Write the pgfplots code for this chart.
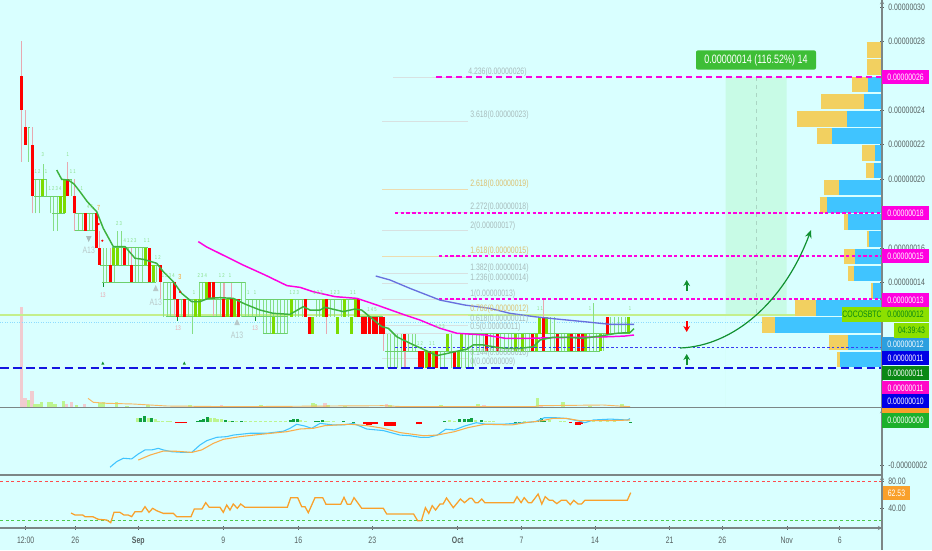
\documentclass[border=0pt]{standalone}
\usepackage{fontspec}
\setmainfont[FakeStretch=0.74]{Liberation Sans}
\usepackage{pgfplots}
\usepackage{pgfplotstable}
\pgfplotsset{compat=1.18}
\usetikzlibrary{arrows.meta}
\definecolor{bgc}{HTML}{D9FFFF}
\definecolor{wickg}{HTML}{86DE86}
\definecolor{wickr}{HTML}{E8A8B0}
\definecolor{bodyg}{HTML}{7BDB00}
\definecolor{dojig}{HTML}{6CD06C}
\definecolor{emag}{HTML}{3DB23D}
\definecolor{mag}{HTML}{FF00E0}
\definecolor{navy2}{HTML}{1414E0}
\definecolor{lvlb}{HTML}{3A3AF0}
\definecolor{lbl}{HTML}{566060}
\definecolor{fibg}{HTML}{A8BCBC}
\definecolor{fibo}{HTML}{DCC070}
\definecolor{vprofb}{HTML}{40C4FF}
\definecolor{vprofo}{HTML}{F2D060}
\definecolor{lime2}{HTML}{8CE000}
\definecolor{mint}{HTML}{C8FBE6}
\definecolor{ornge}{HTML}{F9A02B}
\definecolor{histd}{HTML}{10A040}
\definecolor{histl}{HTML}{BDF590}
\definecolor{sepc}{HTML}{7C8686}
\definecolor{slate}{HTML}{6870DE}
\definecolor{posg}{HTML}{3EBE36}
\definecolor{arrg}{HTML}{109030}
\definecolor{b12}{HTML}{2C9FDF}
\definecolor{b11}{HTML}{0000E6}
\definecolor{g11}{HTML}{0A8814}
\definecolor{m11}{HTML}{FF08C8}
\definecolor{g00}{HTML}{1CB02C}

% candles: i = candle number, lo / hi in units of 0.00000001
\pgfplotstableread{
i lo hi
2 21 23
4 18 20
5 18 20
6 19 20.9
7 19 20
8 18 19
9 17 19
10 17 19
11 18 19
12 18 20
14 19 20
16 17 18
17 17 18
19 17 18
20 17 18
23 14 16
24 14 16
26 14 16
27 15 17
28 15 17
30 15 16
32 14 16
33 14 16
34 14 16
35 15 16
37 14 15
38 14 15
40 12 14
41 12 14
42 12 14
45 12 13
47 12 13
48 11 13
49 12 13
50 12 14
51 13 14
52 13 14
55 12 13
56 12 14
58 12 13
60 12 13
62 12 14
63 12 14
64 12 13
65 12 13
66 12 13
67 12 13
68 11 13
69 11 13
70 11 13
71 11 13
72 11 13
73 11 13
74 11 13
75 11 13
76 12 13
77 12 13
78 12 13
79 12 13
82 11 12
83 12 13
84 12 13
85 12 13
87 12 13
88 12 13
89 11 12
90 12 13
91 12 13
92 12 13
93 11 12
94 12 13
103 9 11
104 9 11
105 9 11
106 9 11
107 9 11
109 10 11
110 10 11
111 10 11
118 9 10
119 9 10
120 10 11
121 9 11
123 9 10
124 9 11
125 9 11
126 9 11
127 9 11
128 10 11
129 10 11
130 10 11
132 10 11
133 10 11
135 10 11
136 10 11
137 10 11
138 10 11
139 10 11
140 10 11
141 10 11
142 10 11
143 10 11
145 10 11
146 11 12
148 11 12
149 10 12
150 10 12
152 10 11
153 10 11
154 10 11
156 10 11
159 10 11
160 10 11
161 10 12.8
162 10 11
163 10 11
164 10 11
166 11 12
167 11 12
168 11 12
169 11 12
170 11 12
171 11 12
}\wicksG
\pgfplotstableread{
i lo hi
0 21 28
1 22 24
3 18 23
13 19 21
15 17 20
18 17 18
21 16 18
22 15 17
25 14 16
29 15 16
31 14 16
36 14 16
39 13 15
43 12 14
44 12 13
46 12 13
53 13 14
54 12 14
57 12 14
59 12 14
61 12 13
80 12 13
81 11 12
86 11 13
95 12 13
102 10 12
108 9 11
147 10 13
}\wicksR
\pgfplotstableread{
i lo hi
0 24 26
1 22 23
3 19 22
13 19 20
15 18 19
18 17 18
21 16 18
22 15 16
25 14 15
29 15 16
31 14 15
36 14 16
39 14 15
43 13 14
44 12 13
46 12 13
53 13 14
54 13 14
57 12 13
59 12 13
61 12 13
80 12 13
81 11 12
86 12 13
95 12 13
96 11 12
97 11 12
98 11 12
99 11 12
100 11 12
101 11 12
102 11 12
108 10 11
112 9 10
113 9 10
115 9 10
117 9 10
122 9 10
131 10 11
134 10 11
144 10 11
147 10 12
151 10 11
155 10 11
157 10 11
158 10 11
165 11 12
}\bodyR
\pgfplotstableread{
i lo hi
6 19 20
11 18 19
12 18 20
26 15 16
27 15 16
35 15 16
37 14 15
49 12 13
50 12 13
52 13 14
58 12 13
60 12 13
71 11 12
76 12 13
82 11 12
85 12 13
89 11 12
91 12 13
93 11 12
94 12 13
114 9 10
116 9 10
120 10 11
123 9 10
124 10 11
139 10 11
141 10 11
145 10 11
146 11 12
148 11 12
154 10 11
159 10 11
163 10 11
171 11 12
}\bodyG
\pgfplotstableread{
a b y
28 30 23
34 47 20
34 48 19
48 65 19
52 65 18
62 72 20
75 95 18
75 96 17
112 148 16
100 160 15
102 156 14
163 173 14
163 242 13
166 237 12
199 245 14
242 288 12
263 287 11
246 310 13
290 360 13
360 383 12
385 460 10
460 600 11
460 600 10
600 630 11
}\dojis
\pgfplotstableread{
a b y
393 468 25.93
382 468 23.37
382 468 17.03
382 468 14.53
382 468 13.95
382 468 13.02
382 468 11.5
382 468 11.05
382 468 9.6
395 468 18.08
}\fibG
\pgfplotstableread{
a b y
382 468 19.4
382 468 15.52
382 468 12.1
}\fibO
% volume profile: price row, left of the up part, left of the down part
\pgfplotstableread{
y o b
27.5 866.7 882
26.5 866.7 882
25.5 851.7 867.7
24.5 821 863.7
23.5 796.7 846.7
22.5 816.7 831.7
21.5 862 875
20.5 865.7 874.3
19.5 824 839
18.5 819.7 826.7
17.5 844.3 847.7
16.5 866.7 868.7
15.5 844 855
14.5 847.7 853.7
13.5 871 873
12.5 794.7 815.7
11.5 761.7 775
10.5 829 847.7
9.5 837.3 840
}\vprof
% MACD histogram: x, lo, hi
\pgfplotstableread{
x lo hi
140.5 -0.1 0.1
144 -0.1 0.18
151.7 -0.1 0.1
197 -0.1 -0.04
200 -0.1 0
203.5 -0.1 0.03
207 -0.1 0.15
225 -0.1 0
232.7 -0.1 -0.05
241.7 -0.1 -0.03
290 -0.1 0
293.5 -0.1 0.03
297 -0.1 0.03
315 -0.1 -0.05
318.5 -0.1 -0.03
322 -0.1 0
343 -0.1 -0.06
353 -0.1 -0.07
444 -0.1 -0.03
459 -0.1 0.03
464.5 -0.1 0.04
468 -0.1 0.05
471 -0.1 0.07
481 -0.1 0
515 -0.1 -0.07
519 -0.1 -0.07
537 -0.1 -0.03
541 -0.1 0.07
544 -0.1 -0.03
630 -0.12 -0.1
}\histD
\pgfplotstableread{
x lo hi
137 -0.1 0.07
148 -0.1 0.1
155 -0.1 0.03
158.5 -0.1 -0.03
162 -0.1 -0.06
167 -0.1 -0.05
170 -0.1 -0.05
210.5 -0.1 0.07
214 -0.1 0.07
217.5 -0.1 0.05
221 -0.1 0.05
229 -0.1 -0.03
236.5 -0.1 -0.05
245 -0.1 -0.05
250 -0.1 -0.05
255 -0.1 -0.05
260 -0.1 -0.05
265 -0.1 -0.05
270 -0.1 -0.05
275 -0.1 -0.05
280 -0.1 -0.05
285 -0.1 -0.05
300 -0.1 0
305 -0.1 -0.05
325 -0.1 -0.05
328.5 -0.1 -0.05
333 -0.1 -0.05
449 -0.1 0
454 -0.1 -0.045
475 -0.1 0
485 -0.1 -0.05
489 -0.1 -0.05
493 -0.1 -0.05
524 -0.1 -0.05
549 -0.1 0
560 -0.1 -0.05
564 -0.1 -0.05
593 -0.1 -0.05
600 -0.1 -0.05
607 -0.1 -0.05
614 -0.1 -0.05
}\histL
\pgfplotstableread{
x lo hi
176 -0.14 -0.1
179 -0.14 -0.1
182 -0.14 -0.1
185 -0.13 -0.1
364 -0.2 -0.1
367 -0.22 -0.1
370 -0.22 -0.1
373 -0.2 -0.1
376 -0.16 -0.1
385 -0.25 -0.1
388 -0.25 -0.1
391 -0.25 -0.1
394 -0.25 -0.1
417 -0.19 -0.1
420.5 -0.19 -0.1
570 -0.13 -0.1
576 -0.22 -0.1
579 -0.22 -0.1
581.5 -0.2 -0.1
}\histR

\newcommand{\candles}[3]{\addplot[draw=none,mark=none,forget plot,error bars/.cd,y dir=plus,y explicit,error mark=none,error bar style={draw=#2,solid,line width=#3}] table[x expr=21.7+3.549*\thisrow{i},y=lo,y error plus expr=\thisrow{hi}-\thisrow{lo}] {#1};}
\newcommand{\vsegs}[3]{\addplot[draw=none,mark=none,forget plot,error bars/.cd,y dir=plus,y explicit,error mark=none,error bar style={draw=#2,solid,line width=#3}] table[x=x,y=lo,y error plus expr=\thisrow{hi}-\thisrow{lo}] {#1};}
\newcommand{\hsegs}[3]{\addplot[draw=none,mark=none,forget plot,error bars/.cd,x dir=plus,x explicit,error mark=none,error bar style={draw=#2,solid,line width=#3}] table[x=a,y=y,x error plus expr=\thisrow{b}-\thisrow{a}] {#1};}
\newcommand{\td}[3]{\node[text=wickg,font=\fontsize{4.2}{5}\selectfont,inner sep=0pt] at (axis cs:#1,#2) {#3};}

\pgfplotsset{
 panel/.style={scale only axis,width=661.5pt,xmin=0,xmax=882,anchor=south west,
   axis line style={-,draw=sepc},
   tick style={draw=lbl,line width=.4pt},
   major tick length=2.5pt,
   tick label style={font=\fontsize{7}{8}\selectfont,text=lbl},
   /pgf/number format/assume math mode=true},
}

\begin{document}
\begin{tikzpicture}[x=1pt,y=1pt]
\fill[bgc] (0,0) rectangle (699,412.5);
\useasboundingbox (0,0) rectangle (699,412.5);

% volume
\begin{axis}[panel,at={(0pt,107.25pt)},height=305.25pt,ymin=0,ymax=407,hide axis]
\addplot[ycomb,wickr!60,line width=2.4pt,forget plot] coordinates {(21.7,100)(25,9)(32,16)(66.7,2.7)(71.7,4.7)(84.3,2.7)(221.7,2.3)(325,3.7)(386.7,3)(484,2)(541,2)};
\addplot[ycomb,histl,line width=2.4pt,forget plot] coordinates {(28.3,7)(35,3)(38.3,3)(41.7,5.3)(48.3,4.7)(51.7,4.7)(55,3)(63.3,6.3)(76.7,2)(100,4)(103.3,4.7)(116.7,5)(127,1)(148,1.5)(190,1.5)(205,1)(261,1.5)(278,1)(315,3)(328,2)(313,4)(345,1)(390,1.5)(410,1)(441,1.5)(478,2.7)(520,1)(537.4,8.7)(563,4.7)(590,1)(622,3)};
\addplot[ornge!75,line width=.7pt,forget plot] coordinates {(88,8.7)(93.3,4.7)(106.7,3.7)(133,3)(150,2)(167,1)(233,.3)(333,1)(383,1.3)(400,.5)(535,.5)(539,1.3)(603,2)(630,.3)};
\end{axis}

% price panel
\begin{axis}[panel,at={(0pt,107.25pt)},height=305.25pt,ymin=6.744,ymax=30.407,
  axis x line=none,axis y line=right,
  ytick={30,28,24,22,20,16,14},
  yticklabels={0.00000030,0.00000028,0.00000024,0.00000022,0.00000020,0.00000016,0.00000014}]
\addplot[fill=mint,draw=none,forget plot] coordinates {(725.7,25.93)(786.7,25.93)(786.7,12.1)(725.7,12.1)} \closedcycle;
\addplot[draw=mint!85!black,dashed,line width=.6pt,forget plot] coordinates {(756,25.93)(756,12.1)};
\addplot[color=bodyg!45!white,line width=1.1pt,forget plot] coordinates {(0,12.1)(882,12.1)};
\addplot[color=vprofb!60!white,densely dotted,line width=.8pt,forget plot] coordinates {(0,11.63)(882,11.63)};
\hsegs{\fibG}{fibg!45}{.5pt}
\hsegs{\fibO}{fibo!55}{.5pt}
\candles{\wicksG}{wickg}{.6pt}
\candles{\wicksR}{wickr}{.8pt}
\hsegs{\dojis}{dojig}{.45pt}
\candles{\bodyG}{bodyg}{2.25pt}
\candles{\bodyR}{red}{2.25pt}
% volume profile
\addplot[draw=none,mark=none,forget plot,error bars/.cd,x dir=plus,x explicit,error mark=none,error bar style={draw=vprofo,solid,line width=11.7pt}] table[x=o,y=y,x error plus expr=\thisrow{b}-\thisrow{o}] {\vprof};
\addplot[draw=none,mark=none,forget plot,error bars/.cd,x dir=plus,x explicit,error mark=none,error bar style={draw=vprofb,solid,line width=11.7pt}] table[x=b,y=y,x error plus expr=882-\thisrow{b}] {\vprof};
% levels
\addplot[color=mag,line width=1.1pt,dash pattern=on 4.5pt off 3pt,forget plot] coordinates {(436,25.93)(882,25.93)};
\addplot[color=mag,line width=.95pt,dash pattern=on 2.5pt off 1.8pt,forget plot] coordinates {(395,18.03)(882,18.03)};
\addplot[color=mag,line width=.95pt,dash pattern=on 2.5pt off 1.8pt,forget plot] coordinates {(439,15.52)(882,15.52)};
\addplot[color=mag,line width=.95pt,dash pattern=on 2.5pt off 1.8pt,forget plot] coordinates {(439,13.02)(882,13.02)};
\addplot[color=lvlb,line width=.95pt,dash pattern=on 2pt off 1.6pt,forget plot] coordinates {(395,10.22)(882,10.22)};
\addplot[color=navy2,line width=1.2pt,dash pattern=on 6.5pt off 3.2pt,forget plot] coordinates {(0,9)(882,9)};
% moving averages
\addplot[color=slate,line width=1pt,forget plot] coordinates {(375.7,14.36)(390,14.13)(410,13.64)(440,12.96)(465,12.67)(490,12.48)(510,12.19)(535,11.99)(560,11.84)(585,11.7)(610,11.55)(634,11.55)};
\addplot[color=mag,line width=1.1pt,forget plot] coordinates {(198.3,16.36)(206,16.07)(225,15.52)(243,15)(265,14.42)(287,13.8)(300,13.7)(313,13.45)(335,13.16)(357,13.06)(377,12.67)(405,12.09)(420,11.8)(440,11.32)(457,11.03)(485,10.93)(505,10.74)(530,10.74)(550,10.77)(580,10.8)(610,10.83)(625,10.87)(634,10.93)};
\addplot[color=emag,line width=1.1pt,forget plot] coordinates {(56.7,20.52)(61.7,19.98)(68.3,19.94)(74,19.71)(80,19.26)(87.3,18.68)(96.7,18.1)(103.3,17.13)(113.3,16.07)(125,16.07)(135,15.39)(143.3,15.33)(156.7,15.1)(163.3,14.61)(173.3,14.03)(181.7,13.35)(191.7,12.87)(200,12.87)(208.3,13.06)(220,13.1)(233.3,13.06)(245,12.73)(260,12.38)(273.3,12.19)(290,12.13)(303.3,12.58)(310,12.38)(320,12.38)(325,12.54)(336.7,12.38)(343.3,12.29)(355,12.44)(361.7,12.38)(371.7,11.9)(381.7,11.42)(388.3,11.32)(396.7,10.83)(410,10.45)(423.3,10.1)(436.7,9.73)(445,9.83)(455,9.96)(466.7,10.1)(473.3,10.35)(483.3,10.35)(496.7,10.21)(506.7,10.15)(520,10.15)(533.3,10.25)(540,10.64)(553.3,10.8)(566.7,10.8)(583.3,10.74)(600,10.87)(616.7,11.03)(630,11.07)(634,11.3)};
\end{axis}

% MACD panel
\begin{axis}[panel,at={(0pt,57pt)},height=48.75pt,ymin=-2.4,ymax=0.489,
  axis x line=none,axis y line=right,
  ytick={-2},yticklabels={-0.00000002}]
\vsegs{\histL}{histl}{2.25pt}
\vsegs{\histD}{histd}{2.25pt}
\vsegs{\histR}{red}{2.25pt}
\addplot[color=vprofb,line width=.8pt,forget plot] coordinates {(110,-2.1)(116.7,-1.85)(123.3,-1.7)(131.7,-1.73)(138.3,-1.51)(145,-1.33)(151.7,-1.33)(158.3,-1.26)(163.3,-1.33)(171.7,-1.41)(183.3,-1.44)(191.7,-1.44)(200,-1.11)(206.7,-0.92)(216.7,-0.77)(226.7,-0.74)(233.3,-0.67)(250,-0.59)(266.7,-0.59)(283.3,-0.5)(290,-0.37)(296.7,-0.19)(305,-0.27)(311.7,-0.37)(320,-0.15)(333.3,-0.22)(343.3,-0.22)(353.3,-0.15)(366.7,-0.4)(383.3,-0.47)(400,-0.67)(410,-0.70)(420.4,-0.77)(428.8,-0.77)(437.3,-0.67)(445.8,-0.41)(454.3,-0.44)(464.5,-0.27)(476.3,-0.12)(484.8,-0.18)(501.8,-0.19)(515.4,-0.15)(535.7,-0.07)(544.2,0.1)(556,0.1)(566.3,0.07)(578.1,-0.04)(584.9,-0.12)(593.4,0)(610.4,0.04)(627.3,0)(630,0.06)};
\addplot[color=ornge!85!white,line width=.8pt,forget plot] coordinates {(138.3,-1.78)(150,-1.56)(163.3,-1.38)(176.7,-1.39)(191.7,-1.44)(201.7,-1.33)(213.3,-1.04)(223.3,-0.86)(240,-0.74)(260,-0.64)(286.7,-0.52)(300,-0.4)(313.3,-0.37)(325,-0.25)(350,-0.19)(366.7,-0.25)(383.3,-0.37)(400,-0.56)(413.6,-0.64)(423.8,-0.7)(437.3,-0.67)(454.3,-0.52)(467.9,-0.34)(484.8,-0.19)(512,-0.22)(525.5,-0.12)(542.5,-0.03)(552.7,0.07)(566.3,0.07)(579.8,-0.03)(593.4,-0.03)(610.4,-0.03)(630,0)};
\end{axis}

% RSI panel
\begin{axis}[panel,at={(0pt,16.5pt)},height=39pt,ymin=11.2,ymax=87.3,
  axis x line=bottom,axis y line=right,
  xticklabel shift=2pt,
  ytick={40,80},yticklabels={40.00,80.00},
  xtick={25.7,75.3,138.3,223.3,298.3,372.3,457.7,521.5,595,669.7,722.3,786.8,839.7},
  xticklabels={12:00,26,\textbf{Sep},9,16,23,\textbf{Oct},7,14,21,26,Nov,6}]
\addplot[color=red!70!white,line width=.6pt,dash pattern=on 2.2pt off 2pt,forget plot] coordinates {(0,80)(882,80)};
\addplot[color=green!70!black!70!white,line width=.6pt,dash pattern=on 2.2pt off 2pt,forget plot] coordinates {(0,23)(882,23)};
\addplot[color=ornge,line width=.95pt,forget plot] coordinates {(71,33.1)(75,30.2)(82.7,30.2)(85,27.8)(92.7,27.8)(98.3,23.9)(106.7,22.9)(110.7,19)(114,34.1)(120,34.1)(124,30.2)(128.3,30.2)(131.7,27.8)(135,35.1)(141.7,35.1)(145,42.4)(149,34.1)(152.7,40)(156.7,36.5)(163.3,32.6)(173.3,32.6)(176.7,27.8)(191,27.8)(194.3,39)(202,39)(205.7,48.3)(209.3,41.4)(220,41.4)(223.3,34.1)(226.7,44.8)(230,37.5)(233.3,46.3)(237.3,40)(240.7,46.3)(245,41.4)(287.3,41.4)(290.7,55.6)(297.7,55.6)(301.7,42.4)(305,42.4)(308.3,33.6)(315,55.6)(322.7,55.6)(326,45.8)(340.7,45.8)(344,56)(347.3,45.8)(350.7,45.8)(354,55.6)(361.7,40)(383.3,40)(386.7,31.7)(413.6,31.7)(417.6,21.9)(421.4,21.9)(425.4,40.9)(428.8,32.6)(432.2,43.9)(435.6,37.5)(440,46.3)(443.1,46.3)(446.5,55.1)(453.3,40.9)(460.4,53.6)(464.5,48.3)(469.6,54.6)(471.9,54.6)(475.3,48.3)(478,48.3)(481.8,53.6)(484.8,48.3)(513.7,48.3)(517,57)(521.1,48.3)(524.2,55.6)(528.3,48.3)(531.6,48.3)(538.1,60.9)(541.8,46.3)(545.2,57)(549.3,51.7)(552.7,51.7)(556.8,46.8)(561.2,51.7)(566.3,51.7)(570.3,45.3)(573.7,51.7)(578.1,46.3)(581.5,46.3)(584.9,51.7)(627.3,51.7)(630.7,62.9)};
\end{axis}

% annotations, in picture pixels
\begin{axis}[at={(0pt,0pt)},anchor=south west,scale only axis,width=699pt,height=412.5pt,xmin=0,xmax=932,ymin=0,ymax=550,y dir=reverse,hide axis,clip=false]
\draw[sepc,line width=1.1pt] (axis cs:0,407.6)--(axis cs:882,407.6);
\draw[sepc,line width=1.1pt] (axis cs:0,475)--(axis cs:882,475);
\draw[sepc,line width=1pt] (axis cs:0,528)--(axis cs:882,528);
\draw[sepc,line width=.9pt] (axis cs:882,0)--(axis cs:882,550);
% fib labels
\begin{scope}[every node/.style={anchor=west,inner sep=0pt,font=\fontsize{7}{8}\selectfont}]
\node[text=fibg] at (axis cs:468,72) {4.236(0.00000026)};
\node[text=fibg] at (axis cs:470,115) {3.618(0.00000023)};
\node[text=fibo] at (axis cs:470,184) {2.618(0.00000019)};
\node[text=fibg] at (axis cs:470,207) {2.272(0.00000018)};
\node[text=fibg] at (axis cs:470,226) {2(0.00000017)};
\node[text=fibo] at (axis cs:470,251) {1.618(0.00000015)};
\node[text=fibg] at (axis cs:470,268) {1.382(0.00000014)};
\node[text=fibg] at (axis cs:470,278) {1.236(0.00000014)};
\node[text=fibg] at (axis cs:470,294) {1(0.00000013)};
\node[text=fibo] at (axis cs:470,309) {0.786(0.00000012)};
\node[text=fibg] at (axis cs:470,319) {0.618(0.00000011)};
\node[text=fibg] at (axis cs:470,327) {0.5(0.00000011)};
\node[text=fibg] at (axis cs:470,353) {0.144(0.00000010)};
\node[text=fibg] at (axis cs:470,362) {0(0.00000009)};
\end{scope}
% A13 marks
\node[text=fibg!80,font=\fontsize{7}{8}\selectfont,inner sep=0pt] at (axis cs:88.7,250) {A13};
\node[text=fibg!80,font=\fontsize{7}{8}\selectfont,inner sep=0pt] at (axis cs:155.7,302.7) {A13};
\node[text=fibg!80,font=\fontsize{7}{8}\selectfont,inner sep=0pt] at (axis cs:237,335.7) {A13};
\fill[fibg] (axis cs:86,236)--(axis cs:91.5,236)--(axis cs:88.7,242)--cycle;
\fill[fibg!80] (axis cs:153,291)--(axis cs:158.5,291)--(axis cs:155.7,285)--cycle;
\fill[fibg!80] (axis cs:234.3,325)--(axis cs:239.8,325)--(axis cs:237,319)--cycle;
\node[text=wickr,font=\fontsize{5}{6}\selectfont,inner sep=0pt] at (axis cs:103,295) {13};
\node[text=wickr,font=\fontsize{5}{6}\selectfont,inner sep=0pt] at (axis cs:178,328) {13};
\node[text=wickr,font=\fontsize{5}{6}\selectfont,inner sep=0pt] at (axis cs:255,328) {13};
\td{37.5}{172}{1 2}\td{46}{172}{1}\td{55}{189}{1 2 3 4}\td{42.7}{155}{3}\td{67.7}{155}{1}\td{72.7}{172}{1 1}\td{81.7}{189}{1}\td{90}{206.5}{4 5}\td{119}{224}{2 3}\td{130}{240.5}{4 1 2 3}\td{146.7}{240.5}{1 1}\td{157.7}{257.7}{1 2}\td{168.3}{275.3}{1 2 3 4}\td{202.3}{275.3}{2 3 4}\td{221.7}{275.3}{1 2}\td{230}{275.3}{1}\td{248.3}{292.3}{1}\td{255}{292.3}{1}\td{294.3}{292.3}{1 2 3}\td{194}{292.3}{1}\td{318}{292.3}{1 2 3}\td{335}{292.3}{1 2 3}\td{353}{292.3}{1 1}\td{372}{310}{1 4 5}\td{440}{327}{1 2 3}\td{420}{344}{1 2}\td{432}{344}{1 1}\td{540}{309}{1 1}\td{590}{309}{1}\td{630}{309}{1}
\node[text=ornge,font=\fontsize{5.5}{6}\selectfont,inner sep=0pt] at (axis cs:98.7,208) {7};
\node[text=ornge,font=\fontsize{5.5}{6}\selectfont,inner sep=0pt] at (axis cs:180,277) {3};
\fill[arrg] (axis cs:102.7,283) rectangle (axis cs:103.9,287);
\fill[arrg] (axis cs:176.7,317) rectangle (axis cs:177.9,321);
\fill[arrg] (axis cs:254.7,317) rectangle (axis cs:255.9,321);
\fill[arrg] (axis cs:101.3,364.5)--(axis cs:104.3,364.5)--(axis cs:102.8,361.5)--cycle;
\fill[arrg] (axis cs:182.8,364.5)--(axis cs:185.8,364.5)--(axis cs:184.3,361.5)--cycle;
\fill[red] (axis cs:98.7,224) circle (.9pt);
\fill[red] (axis cs:102.3,240.7) circle (.9pt);
\fill[red] (axis cs:180,292) circle (.9pt);
% position label
\node[fill=posg,rounded corners=1.5pt,text=white,font=\fontsize{9.1}{10}\selectfont,minimum width=90pt,minimum height=14.5pt,inner sep=0pt] at (axis cs:756,60) {0.00000014 (116.52\%) 14};
% curved arrow and arrows
\draw[arrg,line width=.9pt,-{Stealth[length=6pt,width=5pt,open]}] (axis cs:680,348) .. controls (axis cs:735,346) and (axis cs:785,300) .. (axis cs:811,230);
\draw[arrg,line width=1.3pt,-{Stealth[length=4.5pt,width=5pt]}] (axis cs:686.7,291)--(axis cs:686.7,280);
\draw[arrg,line width=1.3pt,-{Stealth[length=4.5pt,width=5pt]}] (axis cs:686.7,365)--(axis cs:686.7,354);
\draw[red,line width=1.3pt,-{Stealth[length=4.5pt,width=5pt]}] (axis cs:686.7,321)--(axis cs:686.7,332);
% price labels
\begin{scope}[every node/.style={inner sep=0pt,minimum width=35.25pt,minimum height=10.6pt,font=\fontsize{7}{8}\selectfont,text=white}]
\node[fill=mag] at (axis cs:905.5,77) {0.00000026};
\node[fill=mag] at (axis cs:905.5,213) {0.00000018};
\node[fill=mag] at (axis cs:905.5,256) {0.00000015};
\node[fill=mag] at (axis cs:905.5,300) {0.00000013};
\node[fill=lime2,text=g11] at (axis cs:905.5,314.5) {0.00000012};
\node[fill=b12] at (axis cs:905.5,344) {0.00000012};
\node[fill=b11] at (axis cs:905.5,358.3) {0.00000011};
\node[fill=g11] at (axis cs:905.5,373) {0.00000011};
\node[fill=m11] at (axis cs:905.5,388) {0.00000011};
\node[fill=b11] at (axis cs:905.5,401.5) {0.00000010};
\fill[ornge] (axis cs:882,408) rectangle (axis cs:929,414);
\node[fill=g00,minimum height=11pt] at (axis cs:905.5,420.5) {0.00000000};
\node[fill=ornge,minimum width=20.5pt] at (axis cs:896.5,492.8) {62.53};
\node[fill=lime2,text=g11,minimum width=30pt] at (axis cs:862,314.5) {COCOSBTC};
\node[fill=lime2,text=g11,minimum width=26.2pt,minimum height=11pt] at (axis cs:911.5,330.3) {04:39:43};
\end{scope}
\end{axis}
\end{tikzpicture}
\end{document}
